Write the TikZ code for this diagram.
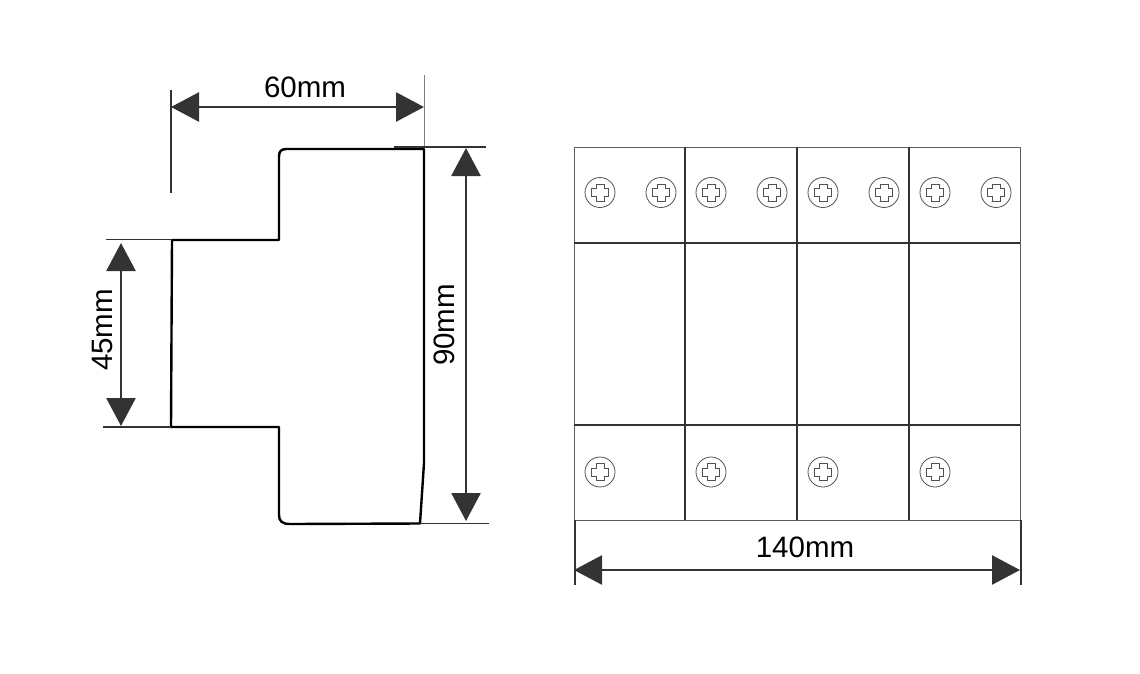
\documentclass[tikz,border=0pt]{standalone}
\usepackage{fontspec}
\setmainfont{Liberation Sans}
\usetikzlibrary{arrows.meta}
\definecolor{dimc}{HTML}{333333}
\tikzset{
  x=1pt,y=-1pt,
  dimarrow/.style={draw=dimc,line width=2.6pt,{Triangle[length=28pt,width=29pt,fill=dimc]}-{Triangle[length=28pt,width=29pt,fill=dimc]}},
  extline/.style={draw=dimc,line width=1.3pt},
  extthin/.style={draw=gray,line width=1pt},
  body/.style={draw=black,line width=2.4pt,line join=round},
  panel/.style={draw=dimc,line width=1.2pt},
  panelthin/.style={draw=dimc!80,line width=1pt},
  capline/.style={draw=dimc,line width=2pt},
  dimtext/.style={font=\fontsize{29.5pt}{30pt}\selectfont,text=black,inner sep=0pt},
  screwhead/.style={circle,draw=dimc!85,line width=.8pt,minimum size=30pt,inner sep=0pt},
  screwcross/.style={draw=dimc!85,line width=.9pt},
}
\newcommand{\screw}[3]{%
  \node[screwhead] (#1) at (#2,#3) {};
  \draw[screwcross]
    (#2-4,#3-8.5) -- (#2+4,#3-8.5) -- (#2+4,#3-4) -- (#2+8.5,#3-4) -- (#2+8.5,#3+4)
    -- (#2+4,#3+4) -- (#2+4,#3+8.5) -- (#2-4,#3+8.5) -- (#2-4,#3+4) -- (#2-8.5,#3+4)
    -- (#2-8.5,#3-4) -- (#2-4,#3-4) -- cycle;
}
\begin{document}
\begin{tikzpicture}
\useasboundingbox[fill=white] (0,0) rectangle (1140,673);
% side view
\draw[body] (171,427) -- (172,240) -- (279,240) -- (279,157)
  .. controls (279,151) and (281,149) .. (287,149) -- (424,149) -- (424,463) -- (420,523.5)
  -- (290,524) .. controls (282,524) and (279,521) .. (279,515) -- (279,427) -- cycle;
% extension lines
\coordinate (a1) at (171,90); \coordinate (a2) at (171,193);
\coordinate (b1) at (424,75); \coordinate (b2) at (424,148);
\coordinate (c1) at (394,147); \coordinate (c2) at (486,147);
\coordinate (d1) at (420,523.5); \coordinate (d2) at (489,523.5);
\coordinate (e1) at (106,239.5); \coordinate (e2) at (172,239.5);
\coordinate (f1) at (103,427); \coordinate (f2) at (171,427);
\draw[extline] (a1) -- (a2);
\draw[extthin] (b1) -- (b2);
\draw[extline] (c1) -- (c2);
\draw[extline] (d1) -- (d2);
\draw[extline] (e1) -- (e2);
\draw[extline] (f1) -- (f2);
% dimension arrows
\coordinate (g1) at (171,107); \coordinate (g2) at (424,107);
\coordinate (h1) at (466,148); \coordinate (h2) at (466,521);
\coordinate (i1) at (121,243); \coordinate (i2) at (121,426);
\coordinate (j1) at (574,570); \coordinate (j2) at (1020,570);
\draw[dimarrow] (g1) -- (g2);
\draw[dimarrow] (h1) -- (h2);
\draw[dimarrow] (i1) -- (i2);
\draw[dimarrow] (j1) -- (j2);
\node[dimtext] (t60) at (305,87.5) {60mm};
\node[dimtext,rotate=90] (t90) at (444.5,325) {90mm};
\node[dimtext,rotate=90] (t45) at (102.5,330) {45mm};
\node[dimtext] (t140) at (805,547.5) {140mm};
% front view
\draw[panelthin] (574,520) -- (574,147.5) -- (1020,147.5) -- (1020,520) -- cycle;
\draw[panel] (574,243) -- (1020,243);
\draw[panel] (574,425) -- (1020,425);
\draw[panel] (685,147) -- (685,520);
\draw[panel] (797,147) -- (797,520);
\draw[panel] (909,147) -- (909,520);
\coordinate (k1) at (574.5,520); \coordinate (k2) at (574.5,585);
\coordinate (l1) at (1020.5,520); \coordinate (l2) at (1020.5,585);
\draw[capline] (k1) -- (k2);
\draw[capline] (l1) -- (l2);
\screw{s1}{600}{192.5}\screw{s2}{661}{192.5}\screw{s3}{711}{192.5}\screw{s4}{772}{192.5}
\screw{s5}{823}{192.5}\screw{s6}{884}{192.5}\screw{s7}{935}{192.5}\screw{s8}{996}{192.5}
\screw{s9}{600}{472}\screw{s10}{711}{472}\screw{s11}{823}{472}\screw{s12}{935}{472}
\end{tikzpicture}
\end{document}
